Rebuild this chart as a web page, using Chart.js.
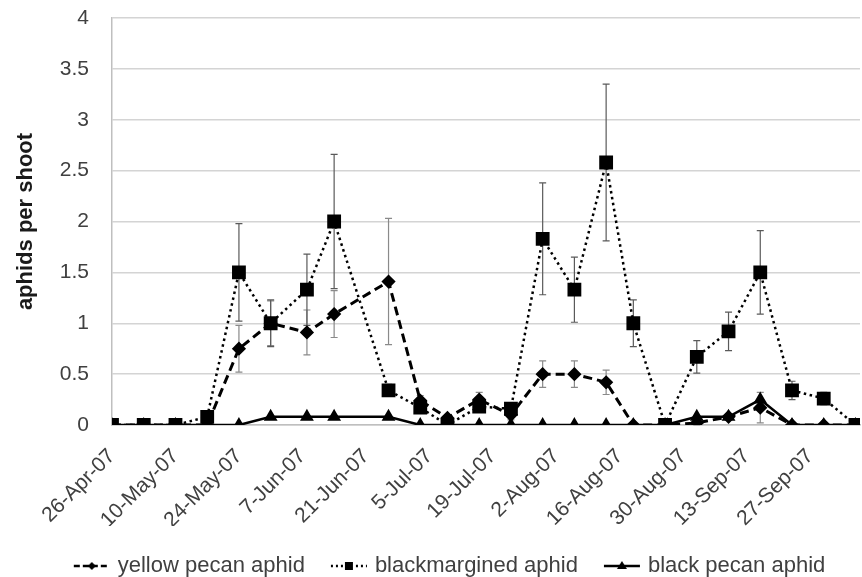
<!DOCTYPE html>
<html>
<head>
<meta charset="utf-8">
<title>Aphids per shoot</title>
<script src="https://cdn.jsdelivr.net/npm/chart.js@4.4.0/dist/chart.umd.min.js"></script>
<style>
  html, body { margin: 0; padding: 0; background: #fff; }
  #wrap { width: 862px; height: 577px; }
</style>
</head>
<body>
<div id="wrap"><canvas id="aphidChart" width="862" height="577"></canvas></div>
<script>
// sample dates (2007)
const sampleDates = [
  '2007-04-26', '2007-05-03', '2007-05-10', '2007-05-17', '2007-05-24', '2007-05-31',
  '2007-06-08', '2007-06-14', '2007-06-26', '2007-07-03', '2007-07-09', '2007-07-16',
  '2007-07-23', '2007-07-30', '2007-08-06', '2007-08-13', '2007-08-19', '2007-08-26',
  '2007-09-02', '2007-09-09', '2007-09-16', '2007-09-23', '2007-09-30', '2007-10-07'
];

// axis labels every 14 days from the first sample
const tickLabels = ['26-Apr-07', '10-May-07', '24-May-07', '7-Jun-07', '21-Jun-07', '5-Jul-07',
  '19-Jul-07', '2-Aug-07', '16-Aug-07', '30-Aug-07', '13-Sep-07', '27-Sep-07'];

const yellowPecan = [0, 0, 0, 0, 0.75, 1.0, 0.91, 1.09, 1.41, 0.24, 0.07, 0.25,
  0.1, 0.5, 0.5, 0.42, 0, 0, 0.02, 0.08, 0.17, 0, 0, 0];
const yellowPecanErr = [0, 0, 0, 0, 0.23, 0.22, 0.22, 0.23, 0.62, 0.05, 0.03, 0.07,
  0.05, 0.13, 0.13, 0.12, 0, 0, 0.02, 0.03, 0.15, 0, 0, 0];

const blackmargined = [0, 0, 0, 0.08, 1.5, 1.0, 1.33, 2.0, 0.34, 0.17, 0, 0.18,
  0.16, 1.83, 1.33, 2.58, 1.0, 0, 0.67, 0.92, 1.5, 0.34, 0.26, 0];
const blackmarginedErr = [0, 0, 0, 0.02, 0.48, 0.23, 0.35, 0.66, 0.06, 0.04, 0, 0.05,
  0.04, 0.55, 0.32, 0.77, 0.23, 0, 0.16, 0.19, 0.41, 0.09, 0.06, 0];

const blackPecan = [0, 0, 0, 0, 0, 0.08, 0.08, 0.08, 0.08, 0, 0, 0,
  0, 0, 0, 0, 0, 0, 0.08, 0.08, 0.25, 0, 0, 0];

const DAY = 86400000;
const days = sampleDates.map(d => (Date.parse(d) - Date.parse(sampleDates[0])) / DAY);
const pts = vals => days.map((d, i) => ({ x: d, y: vals[i] }));

// little line+marker images for the legend
function legendIcon(dash, marker) {
  const c = document.createElement('canvas');
  c.width = 38; c.height = 16;
  const g = c.getContext('2d');
  g.strokeStyle = '#000';
  g.fillStyle = '#000';
  g.lineWidth = 2.5;
  g.setLineDash(dash);
  g.beginPath(); g.moveTo(1, 8); g.lineTo(37, 8); g.stroke();
  g.setLineDash([]);
  g.beginPath();
  if (marker === 'diamond') {
    g.moveTo(19, 4); g.lineTo(23, 8); g.lineTo(19, 12); g.lineTo(15, 8);
  } else if (marker === 'square') {
    g.rect(15, 4, 8, 8);
  } else {
    g.moveTo(19, 3); g.lineTo(24, 11); g.lineTo(14, 11);
  }
  g.closePath();
  g.fill();
  return c;
}

const errorBars = {
  id: 'errorBars',
  beforeDatasetsDraw(chart) {
    const { ctx, scales: { x, y } } = chart;
    ctx.save();
    ctx.lineWidth = 1.2;
    chart.data.datasets.forEach(ds => {
      if (!ds.errors) return;
      ctx.strokeStyle = ds.errorColor;
      ds.data.forEach((p, i) => {
        const e = ds.errors[i];
        if (!e) return;
        const px = x.getPixelForValue(p.x);
        const top = y.getPixelForValue(p.y + e);
        const bot = y.getPixelForValue(Math.max(0, p.y - e));
        ctx.beginPath();
        ctx.moveTo(px, top); ctx.lineTo(px, bot);
        ctx.moveTo(px - 3.5, top); ctx.lineTo(px + 3.5, top);
        ctx.moveTo(px - 3.5, bot); ctx.lineTo(px + 3.5, bot);
        ctx.stroke();
      });
    });
    ctx.restore();
  }
};

// nudge the legend row to the right, like the original
const legendShift = {
  id: 'legendShift',
  afterLayout(chart) {
    chart.legend.left += 42;
  }
};

Chart.defaults.font.family = '"Liberation Sans", Arial, sans-serif';
Chart.defaults.color = '#404040';

const ctx = document.getElementById('aphidChart').getContext('2d');
new Chart(ctx, {
  type: 'line',
  data: {
    datasets: [{
      label: 'yellow pecan aphid',
      data: pts(yellowPecan),
      errors: yellowPecanErr,
      errorColor: '#8a8a8a',
      borderColor: '#000',
      borderWidth: 3,
      borderDash: [9, 5],
      pointStyle: 'rectRot',
      pointRadius: 5,
      pointBackgroundColor: '#000',
      pointBorderColor: '#000',
      legendIcon: legendIcon([6, 3], 'diamond'),
      order: 3
    }, {
      label: 'blackmargined aphid',
      data: pts(blackmargined),
      errors: blackmarginedErr,
      errorColor: '#5a5a5a',
      borderColor: '#000',
      borderWidth: 2.5,
      borderDash: [2.5, 3.5],
      pointStyle: 'rect',
      pointRadius: 8,
      pointBackgroundColor: '#000',
      pointBorderColor: '#000',
      legendIcon: legendIcon([2, 3], 'square'),
      order: 2
    }, {
      label: 'black pecan aphid',
      data: pts(blackPecan),
      borderColor: '#000',
      borderWidth: 2.5,
      pointStyle: 'triangle',
      pointRadius: 5.5,
      pointBackgroundColor: '#000',
      pointBorderColor: '#000',
      legendIcon: legendIcon([], 'triangle'),
      order: 1
    }]
  },
  options: {
    responsive: false,
    animation: false,
    layout: { autoPadding: false, padding: { top: 18, right: 2, left: 0, bottom: -10 } },
    plugins: {
      tooltip: { enabled: false },
      legend: {
        position: 'bottom',
        labels: {
          usePointStyle: true,
          pointStyleWidth: 30,
          padding: 29,
          color: '#404040',
          font: { size: 22 },
          generateLabels(chart) {
            return chart.data.datasets.map((ds, i) => ({
              text: ds.label,
              pointStyle: ds.legendIcon,
              datasetIndex: i,
              lineWidth: 0,
              fontColor: '#404040'
            }));
          }
        }
      }
    },
    scales: {
      x: {
        type: 'linear',
        min: 0,
        max: 165,
        grid: { display: false, drawTicks: false },
        border: { color: '#bfbfbf', width: 1.5 },
        afterBuildTicks(scale) {
          scale.ticks = tickLabels.map((t, i) => ({ value: i * 14 }));
        },
        afterFit(scale) {
          scale.height = 101;
          scale.paddingLeft = 0;
          scale.paddingRight = 0;
        },
        ticks: {
          autoSkip: false,
          minRotation: 45,
          maxRotation: 45,
          padding: 19,
          font: { size: 21 },
          callback: v => tickLabels[v / 14]
        }
      },
      y: {
        min: 0,
        max: 4,
        afterFit(scale) {
          scale.width = 112;
          scale.paddingTop = 0;
          scale.paddingBottom = 0;
        },
        grid: { color: '#d4d4d4', lineWidth: 1.5, drawTicks: false },
        border: { color: '#bfbfbf', width: 1.5 },
        ticks: { stepSize: 0.5, padding: 23, font: { size: 21 }, callback: v => String(v) },
        title: {
          display: true,
          text: 'aphids per shoot',
          color: '#1a1a1a',
          font: { size: 22, weight: 'bold' },
          padding: { top: 13, bottom: 0 }
        }
      }
    }
  },
  plugins: [errorBars, legendShift]
});
</script>
</body>
</html>
